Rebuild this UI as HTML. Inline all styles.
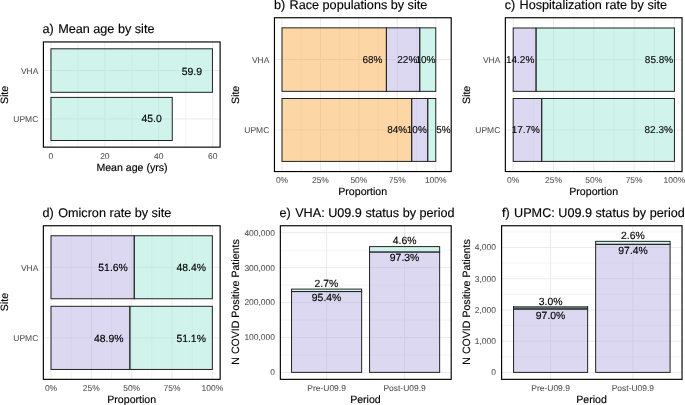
<!DOCTYPE html>
<html><head><meta charset="utf-8"><style>
html,body{margin:0;padding:0;background:#fff;width:685px;height:405px;overflow:hidden}
svg{display:block;position:absolute;left:0;top:0}
text{font-family:"Liberation Sans",sans-serif;text-rendering:geometricPrecision}
#txt{filter:grayscale(1)}
</style></head><body>
<svg width="685" height="405" viewBox="0 0 685 405">
<rect x="0" y="0" width="685" height="405" fill="#fff"/>
<line x1="77.91" y1="41.95" x2="77.91" y2="147.15" stroke="#EBEBEB" stroke-width="0.55"/>
<line x1="131.82" y1="41.95" x2="131.82" y2="147.15" stroke="#EBEBEB" stroke-width="0.55"/>
<line x1="185.74" y1="41.95" x2="185.74" y2="147.15" stroke="#EBEBEB" stroke-width="0.55"/>
<line x1="50.95" y1="41.95" x2="50.95" y2="147.15" stroke="#EBEBEB" stroke-width="1.0"/>
<line x1="104.87" y1="41.95" x2="104.87" y2="147.15" stroke="#EBEBEB" stroke-width="1.0"/>
<line x1="158.78" y1="41.95" x2="158.78" y2="147.15" stroke="#EBEBEB" stroke-width="1.0"/>
<line x1="212.70" y1="41.95" x2="212.70" y2="147.15" stroke="#EBEBEB" stroke-width="1.0"/>
<line x1="43.40" y1="70.55" x2="220.10" y2="70.55" stroke="#EBEBEB" stroke-width="1.0"/>
<line x1="43.40" y1="118.95" x2="220.10" y2="118.95" stroke="#EBEBEB" stroke-width="1.0"/>
<rect x="50.95" y="48.80" width="161.48" height="43.50" fill="#97E4D3" fill-opacity="0.45" stroke="#222222" stroke-width="1.0"/>
<rect x="50.95" y="97.40" width="121.31" height="43.10" fill="#97E4D3" fill-opacity="0.45" stroke="#222222" stroke-width="1.0"/>
<rect x="43.40" y="41.95" width="176.70" height="105.20" fill="none" stroke="#000000" stroke-width="1.15"/>
<line x1="301.22" y1="17.75" x2="301.22" y2="171.55" stroke="#EBEBEB" stroke-width="0.55"/>
<line x1="339.66" y1="17.75" x2="339.66" y2="171.55" stroke="#EBEBEB" stroke-width="0.55"/>
<line x1="378.09" y1="17.75" x2="378.09" y2="171.55" stroke="#EBEBEB" stroke-width="0.55"/>
<line x1="416.53" y1="17.75" x2="416.53" y2="171.55" stroke="#EBEBEB" stroke-width="0.55"/>
<line x1="282.00" y1="17.75" x2="282.00" y2="171.55" stroke="#EBEBEB" stroke-width="1.0"/>
<line x1="320.44" y1="17.75" x2="320.44" y2="171.55" stroke="#EBEBEB" stroke-width="1.0"/>
<line x1="358.88" y1="17.75" x2="358.88" y2="171.55" stroke="#EBEBEB" stroke-width="1.0"/>
<line x1="397.31" y1="17.75" x2="397.31" y2="171.55" stroke="#EBEBEB" stroke-width="1.0"/>
<line x1="435.75" y1="17.75" x2="435.75" y2="171.55" stroke="#EBEBEB" stroke-width="1.0"/>
<line x1="274.45" y1="59.60" x2="451.20" y2="59.60" stroke="#EBEBEB" stroke-width="1.0"/>
<line x1="274.45" y1="129.95" x2="451.20" y2="129.95" stroke="#EBEBEB" stroke-width="1.0"/>
<rect x="282.00" y="27.85" width="104.40" height="63.50" fill="#FBA439" fill-opacity="0.45" stroke="#222222" stroke-width="1.0"/>
<rect x="386.40" y="27.85" width="33.36" height="63.50" fill="#B1A8E0" fill-opacity="0.45" stroke="#222222" stroke-width="1.0"/>
<rect x="419.76" y="27.85" width="15.99" height="63.50" fill="#97E4D3" fill-opacity="0.45" stroke="#222222" stroke-width="1.0"/>
<rect x="282.00" y="98.50" width="129.69" height="62.90" fill="#FBA439" fill-opacity="0.45" stroke="#222222" stroke-width="1.0"/>
<rect x="411.69" y="98.50" width="16.07" height="62.90" fill="#B1A8E0" fill-opacity="0.45" stroke="#222222" stroke-width="1.0"/>
<rect x="427.75" y="98.50" width="8.00" height="62.90" fill="#97E4D3" fill-opacity="0.45" stroke="#222222" stroke-width="1.0"/>
<rect x="274.45" y="17.75" width="176.75" height="153.80" fill="none" stroke="#000000" stroke-width="1.15"/>
<line x1="533.36" y1="17.75" x2="533.36" y2="171.55" stroke="#EBEBEB" stroke-width="0.55"/>
<line x1="573.67" y1="17.75" x2="573.67" y2="171.55" stroke="#EBEBEB" stroke-width="0.55"/>
<line x1="613.98" y1="17.75" x2="613.98" y2="171.55" stroke="#EBEBEB" stroke-width="0.55"/>
<line x1="654.29" y1="17.75" x2="654.29" y2="171.55" stroke="#EBEBEB" stroke-width="0.55"/>
<line x1="513.20" y1="17.75" x2="513.20" y2="171.55" stroke="#EBEBEB" stroke-width="1.0"/>
<line x1="553.51" y1="17.75" x2="553.51" y2="171.55" stroke="#EBEBEB" stroke-width="1.0"/>
<line x1="593.83" y1="17.75" x2="593.83" y2="171.55" stroke="#EBEBEB" stroke-width="1.0"/>
<line x1="634.14" y1="17.75" x2="634.14" y2="171.55" stroke="#EBEBEB" stroke-width="1.0"/>
<line x1="674.45" y1="17.75" x2="674.45" y2="171.55" stroke="#EBEBEB" stroke-width="1.0"/>
<line x1="505.35" y1="59.67" x2="682.05" y2="59.67" stroke="#EBEBEB" stroke-width="1.0"/>
<line x1="505.35" y1="129.95" x2="682.05" y2="129.95" stroke="#EBEBEB" stroke-width="1.0"/>
<rect x="513.20" y="28.00" width="22.90" height="63.35" fill="#B1A8E0" fill-opacity="0.45" stroke="#222222" stroke-width="1.0"/>
<rect x="536.10" y="28.00" width="138.35" height="63.35" fill="#97E4D3" fill-opacity="0.45" stroke="#222222" stroke-width="1.0"/>
<rect x="513.20" y="98.50" width="28.54" height="62.90" fill="#B1A8E0" fill-opacity="0.45" stroke="#222222" stroke-width="1.0"/>
<rect x="541.74" y="98.50" width="132.71" height="62.90" fill="#97E4D3" fill-opacity="0.45" stroke="#222222" stroke-width="1.0"/>
<rect x="505.35" y="17.75" width="176.70" height="153.80" fill="none" stroke="#000000" stroke-width="1.15"/>
<line x1="71.17" y1="225.75" x2="71.17" y2="379.35" stroke="#EBEBEB" stroke-width="0.55"/>
<line x1="111.51" y1="225.75" x2="111.51" y2="379.35" stroke="#EBEBEB" stroke-width="0.55"/>
<line x1="151.84" y1="225.75" x2="151.84" y2="379.35" stroke="#EBEBEB" stroke-width="0.55"/>
<line x1="192.18" y1="225.75" x2="192.18" y2="379.35" stroke="#EBEBEB" stroke-width="0.55"/>
<line x1="51.00" y1="225.75" x2="51.00" y2="379.35" stroke="#EBEBEB" stroke-width="1.0"/>
<line x1="91.34" y1="225.75" x2="91.34" y2="379.35" stroke="#EBEBEB" stroke-width="1.0"/>
<line x1="131.68" y1="225.75" x2="131.68" y2="379.35" stroke="#EBEBEB" stroke-width="1.0"/>
<line x1="172.01" y1="225.75" x2="172.01" y2="379.35" stroke="#EBEBEB" stroke-width="1.0"/>
<line x1="212.35" y1="225.75" x2="212.35" y2="379.35" stroke="#EBEBEB" stroke-width="1.0"/>
<line x1="43.35" y1="267.25" x2="220.15" y2="267.25" stroke="#EBEBEB" stroke-width="1.0"/>
<line x1="43.35" y1="337.88" x2="220.15" y2="337.88" stroke="#EBEBEB" stroke-width="1.0"/>
<rect x="51.00" y="235.75" width="83.26" height="63.00" fill="#B1A8E0" fill-opacity="0.45" stroke="#222222" stroke-width="1.0"/>
<rect x="134.26" y="235.75" width="78.09" height="63.00" fill="#97E4D3" fill-opacity="0.45" stroke="#222222" stroke-width="1.0"/>
<rect x="51.00" y="306.30" width="78.90" height="63.15" fill="#B1A8E0" fill-opacity="0.45" stroke="#222222" stroke-width="1.0"/>
<rect x="129.90" y="306.30" width="82.45" height="63.15" fill="#97E4D3" fill-opacity="0.45" stroke="#222222" stroke-width="1.0"/>
<rect x="43.35" y="225.75" width="176.80" height="153.60" fill="none" stroke="#000000" stroke-width="1.15"/>
<line x1="280.35" y1="354.92" x2="451.20" y2="354.92" stroke="#EBEBEB" stroke-width="0.55"/>
<line x1="280.35" y1="320.00" x2="451.20" y2="320.00" stroke="#EBEBEB" stroke-width="0.55"/>
<line x1="280.35" y1="285.10" x2="451.20" y2="285.10" stroke="#EBEBEB" stroke-width="0.55"/>
<line x1="280.35" y1="250.19" x2="451.20" y2="250.19" stroke="#EBEBEB" stroke-width="0.55"/>
<line x1="280.35" y1="372.37" x2="451.20" y2="372.37" stroke="#EBEBEB" stroke-width="1.0"/>
<line x1="280.35" y1="337.46" x2="451.20" y2="337.46" stroke="#EBEBEB" stroke-width="1.0"/>
<line x1="280.35" y1="302.55" x2="451.20" y2="302.55" stroke="#EBEBEB" stroke-width="1.0"/>
<line x1="280.35" y1="267.64" x2="451.20" y2="267.64" stroke="#EBEBEB" stroke-width="1.0"/>
<line x1="280.35" y1="232.73" x2="451.20" y2="232.73" stroke="#EBEBEB" stroke-width="1.0"/>
<line x1="326.60" y1="225.75" x2="326.60" y2="379.35" stroke="#EBEBEB" stroke-width="1.0"/>
<line x1="404.60" y1="225.75" x2="404.60" y2="379.35" stroke="#EBEBEB" stroke-width="1.0"/>
<rect x="291.55" y="291.55" width="70.10" height="80.82" fill="#B1A8E0" fill-opacity="0.45" stroke="#222222" stroke-width="1.0"/>
<rect x="291.55" y="289.10" width="70.10" height="2.45" fill="#97E4D3" fill-opacity="0.45" stroke="#222222" stroke-width="1.0"/>
<rect x="369.55" y="252.00" width="70.10" height="120.37" fill="#B1A8E0" fill-opacity="0.45" stroke="#222222" stroke-width="1.0"/>
<rect x="369.55" y="246.60" width="70.10" height="5.40" fill="#97E4D3" fill-opacity="0.45" stroke="#222222" stroke-width="1.0"/>
<rect x="280.35" y="225.75" width="170.85" height="153.60" fill="none" stroke="#000000" stroke-width="1.15"/>
<line x1="501.60" y1="356.78" x2="682.05" y2="356.78" stroke="#EBEBEB" stroke-width="0.55"/>
<line x1="501.60" y1="325.55" x2="682.05" y2="325.55" stroke="#EBEBEB" stroke-width="0.55"/>
<line x1="501.60" y1="294.32" x2="682.05" y2="294.32" stroke="#EBEBEB" stroke-width="0.55"/>
<line x1="501.60" y1="263.09" x2="682.05" y2="263.09" stroke="#EBEBEB" stroke-width="0.55"/>
<line x1="501.60" y1="231.86" x2="682.05" y2="231.86" stroke="#EBEBEB" stroke-width="0.55"/>
<line x1="501.60" y1="372.40" x2="682.05" y2="372.40" stroke="#EBEBEB" stroke-width="1.0"/>
<line x1="501.60" y1="341.17" x2="682.05" y2="341.17" stroke="#EBEBEB" stroke-width="1.0"/>
<line x1="501.60" y1="309.94" x2="682.05" y2="309.94" stroke="#EBEBEB" stroke-width="1.0"/>
<line x1="501.60" y1="278.71" x2="682.05" y2="278.71" stroke="#EBEBEB" stroke-width="1.0"/>
<line x1="501.60" y1="247.48" x2="682.05" y2="247.48" stroke="#EBEBEB" stroke-width="1.0"/>
<line x1="550.60" y1="225.75" x2="550.60" y2="379.35" stroke="#EBEBEB" stroke-width="1.0"/>
<line x1="632.88" y1="225.75" x2="632.88" y2="379.35" stroke="#EBEBEB" stroke-width="1.0"/>
<rect x="513.55" y="309.00" width="74.10" height="63.40" fill="#B1A8E0" fill-opacity="0.45" stroke="#222222" stroke-width="1.0"/>
<rect x="513.55" y="306.00" width="74.10" height="3.00" fill="#5E706A"/>
<line x1="513.55" y1="306.00" x2="513.55" y2="309.00" stroke="#222222" stroke-width="1.0"/>
<line x1="587.65" y1="306.00" x2="587.65" y2="309.00" stroke="#222222" stroke-width="1.0"/>
<line x1="513.55" y1="309.00" x2="587.65" y2="309.00" stroke="#222222" stroke-width="1.0"/>
<rect x="595.65" y="244.35" width="74.45" height="128.05" fill="#B1A8E0" fill-opacity="0.45" stroke="#222222" stroke-width="1.0"/>
<rect x="595.65" y="241.35" width="74.45" height="3.00" fill="#97E4D3" fill-opacity="0.45" stroke="#222222" stroke-width="1.0"/>
<rect x="501.60" y="225.75" width="180.45" height="153.60" fill="none" stroke="#000000" stroke-width="1.15"/>
</svg>
<svg id="txt" width="685" height="405" viewBox="0 0 685 405">
<text x="202.00" y="74.50" font-size="10.42" text-anchor="end" fill="#000000" stroke="#000000" stroke-width="0.15">59.9</text>
<text x="161.70" y="122.40" font-size="10.42" text-anchor="end" fill="#000000" stroke="#000000" stroke-width="0.15">45.0</text>
<text x="50.95" y="159.00" font-size="8.48" text-anchor="middle" fill="#4D4D4D" stroke="#4D4D4D" stroke-width="0.05">0</text>
<text x="104.87" y="159.00" font-size="8.48" text-anchor="middle" fill="#4D4D4D" stroke="#4D4D4D" stroke-width="0.05">20</text>
<text x="158.78" y="159.00" font-size="8.48" text-anchor="middle" fill="#4D4D4D" stroke="#4D4D4D" stroke-width="0.05">40</text>
<text x="212.70" y="159.00" font-size="8.48" text-anchor="middle" fill="#4D4D4D" stroke="#4D4D4D" stroke-width="0.05">60</text>
<text x="38.30" y="73.95" font-size="8.48" text-anchor="end" fill="#4D4D4D" stroke="#4D4D4D" stroke-width="0.05">VHA</text>
<text x="38.30" y="122.35" font-size="8.48" text-anchor="end" fill="#4D4D4D" stroke="#4D4D4D" stroke-width="0.05">UPMC</text>
<text x="132.00" y="170.60" font-size="10.6" text-anchor="middle" fill="#000000" stroke="#000000" stroke-width="0.15">Mean age (yrs)</text>
<text x="8.30" y="94.95" font-size="10.6" text-anchor="middle" fill="#000000" stroke="#000000" stroke-width="0.15" transform="rotate(-90 8.30 94.95)">Site</text>
<text x="42.60" y="33.40" font-size="12.65" text-anchor="start" fill="#000000" stroke="#000000" stroke-width="0.15">a)<tspan dx="0.8"> Mean age by site</tspan></text>
<text transform="translate(382.50 63.40) scale(1.0 1)" font-size="10.0" text-anchor="end" fill="#000000" stroke="#000000" stroke-width="0.1">68%</text>
<text transform="translate(417.30 63.40) scale(1.0 1)" font-size="10.0" text-anchor="end" fill="#000000" stroke="#000000" stroke-width="0.1">22%</text>
<text transform="translate(435.50 63.40) scale(1.0 1)" font-size="10.0" text-anchor="end" fill="#000000" stroke="#000000" stroke-width="0.1">10%</text>
<text transform="translate(407.20 133.35) scale(1.0 1)" font-size="10.0" text-anchor="end" fill="#000000" stroke="#000000" stroke-width="0.1">84%</text>
<text transform="translate(426.80 133.35) scale(1.0 1)" font-size="10.0" text-anchor="end" fill="#000000" stroke="#000000" stroke-width="0.1">10%</text>
<text transform="translate(450.70 133.35) scale(1.0 1)" font-size="10.0" text-anchor="end" fill="#000000" stroke="#000000" stroke-width="0.1">5%</text>
<text x="282.00" y="183.00" font-size="8.48" text-anchor="middle" fill="#4D4D4D" stroke="#4D4D4D" stroke-width="0.05">0%</text>
<text x="320.44" y="183.00" font-size="8.48" text-anchor="middle" fill="#4D4D4D" stroke="#4D4D4D" stroke-width="0.05">25%</text>
<text x="358.88" y="183.00" font-size="8.48" text-anchor="middle" fill="#4D4D4D" stroke="#4D4D4D" stroke-width="0.05">50%</text>
<text x="397.31" y="183.00" font-size="8.48" text-anchor="middle" fill="#4D4D4D" stroke="#4D4D4D" stroke-width="0.05">75%</text>
<text x="435.75" y="183.00" font-size="8.48" text-anchor="middle" fill="#4D4D4D" stroke="#4D4D4D" stroke-width="0.05">100%</text>
<text x="269.30" y="63.00" font-size="8.48" text-anchor="end" fill="#4D4D4D" stroke="#4D4D4D" stroke-width="0.05">VHA</text>
<text x="269.30" y="133.35" font-size="8.48" text-anchor="end" fill="#4D4D4D" stroke="#4D4D4D" stroke-width="0.05">UPMC</text>
<text x="362.70" y="194.60" font-size="10.6" text-anchor="middle" fill="#000000" stroke="#000000" stroke-width="0.15">Proportion</text>
<text x="239.30" y="94.85" font-size="10.6" text-anchor="middle" fill="#000000" stroke="#000000" stroke-width="0.15" transform="rotate(-90 239.30 94.85)">Site</text>
<text x="274.00" y="9.15" font-size="12.65" text-anchor="start" fill="#000000" stroke="#000000" stroke-width="0.15">b)<tspan dx="0.8"> Race populations by site</tspan></text>
<text transform="translate(534.30 63.05) scale(1.0 1)" font-size="10.0" text-anchor="end" fill="#000000" stroke="#000000" stroke-width="0.1">14.2%</text>
<text transform="translate(673.20 63.05) scale(1.0 1)" font-size="10.0" text-anchor="end" fill="#000000" stroke="#000000" stroke-width="0.1">85.8%</text>
<text transform="translate(540.00 133.35) scale(1.0 1)" font-size="10.0" text-anchor="end" fill="#000000" stroke="#000000" stroke-width="0.1">17.7%</text>
<text transform="translate(672.90 133.35) scale(1.0 1)" font-size="10.0" text-anchor="end" fill="#000000" stroke="#000000" stroke-width="0.1">82.3%</text>
<text x="513.20" y="183.00" font-size="8.48" text-anchor="middle" fill="#4D4D4D" stroke="#4D4D4D" stroke-width="0.05">0%</text>
<text x="553.51" y="183.00" font-size="8.48" text-anchor="middle" fill="#4D4D4D" stroke="#4D4D4D" stroke-width="0.05">25%</text>
<text x="593.83" y="183.00" font-size="8.48" text-anchor="middle" fill="#4D4D4D" stroke="#4D4D4D" stroke-width="0.05">50%</text>
<text x="634.14" y="183.00" font-size="8.48" text-anchor="middle" fill="#4D4D4D" stroke="#4D4D4D" stroke-width="0.05">75%</text>
<text x="674.45" y="183.00" font-size="8.48" text-anchor="middle" fill="#4D4D4D" stroke="#4D4D4D" stroke-width="0.05">100%</text>
<text x="500.30" y="63.07" font-size="8.48" text-anchor="end" fill="#4D4D4D" stroke="#4D4D4D" stroke-width="0.05">VHA</text>
<text x="500.30" y="133.35" font-size="8.48" text-anchor="end" fill="#4D4D4D" stroke="#4D4D4D" stroke-width="0.05">UPMC</text>
<text x="593.70" y="194.60" font-size="10.6" text-anchor="middle" fill="#000000" stroke="#000000" stroke-width="0.15">Proportion</text>
<text x="470.30" y="94.85" font-size="10.6" text-anchor="middle" fill="#000000" stroke="#000000" stroke-width="0.15" transform="rotate(-90 470.30 94.85)">Site</text>
<text x="504.70" y="9.15" font-size="12.65" text-anchor="start" fill="#000000" stroke="#000000" stroke-width="0.15">c)<tspan dx="0.8"> Hospitalization rate by site</tspan></text>
<text x="127.85" y="271.10" font-size="10.42" text-anchor="end" fill="#000000" stroke="#000000" stroke-width="0.15">51.6%</text>
<text x="206.00" y="271.10" font-size="10.42" text-anchor="end" fill="#000000" stroke="#000000" stroke-width="0.15">48.4%</text>
<text x="123.50" y="341.70" font-size="10.42" text-anchor="end" fill="#000000" stroke="#000000" stroke-width="0.15">48.9%</text>
<text x="205.90" y="341.70" font-size="10.42" text-anchor="end" fill="#000000" stroke="#000000" stroke-width="0.15">51.1%</text>
<text x="51.00" y="390.80" font-size="8.48" text-anchor="middle" fill="#4D4D4D" stroke="#4D4D4D" stroke-width="0.05">0%</text>
<text x="91.34" y="390.80" font-size="8.48" text-anchor="middle" fill="#4D4D4D" stroke="#4D4D4D" stroke-width="0.05">25%</text>
<text x="131.68" y="390.80" font-size="8.48" text-anchor="middle" fill="#4D4D4D" stroke="#4D4D4D" stroke-width="0.05">50%</text>
<text x="172.01" y="390.80" font-size="8.48" text-anchor="middle" fill="#4D4D4D" stroke="#4D4D4D" stroke-width="0.05">75%</text>
<text x="212.35" y="390.80" font-size="8.48" text-anchor="middle" fill="#4D4D4D" stroke="#4D4D4D" stroke-width="0.05">100%</text>
<text x="38.30" y="270.65" font-size="8.48" text-anchor="end" fill="#4D4D4D" stroke="#4D4D4D" stroke-width="0.05">VHA</text>
<text x="38.30" y="341.27" font-size="8.48" text-anchor="end" fill="#4D4D4D" stroke="#4D4D4D" stroke-width="0.05">UPMC</text>
<text x="131.70" y="403.00" font-size="10.6" text-anchor="middle" fill="#000000" stroke="#000000" stroke-width="0.15">Proportion</text>
<text x="8.30" y="302.10" font-size="10.6" text-anchor="middle" fill="#000000" stroke="#000000" stroke-width="0.15" transform="rotate(-90 8.30 302.10)">Site</text>
<text x="42.60" y="216.80" font-size="12.65" text-anchor="start" fill="#000000" stroke="#000000" stroke-width="0.15">d)<tspan dx="0.8"> Omicron rate by site</tspan></text>
<text x="326.40" y="287.20" font-size="10.42" text-anchor="middle" fill="#000000" stroke="#000000" stroke-width="0.15">2.7%</text>
<text x="326.60" y="300.50" font-size="10.42" text-anchor="middle" fill="#000000" stroke="#000000" stroke-width="0.15">95.4%</text>
<text x="404.60" y="244.30" font-size="10.42" text-anchor="middle" fill="#000000" stroke="#000000" stroke-width="0.15">4.6%</text>
<text x="404.60" y="261.45" font-size="10.42" text-anchor="middle" fill="#000000" stroke="#000000" stroke-width="0.15">97.3%</text>
<text x="275.00" y="375.27" font-size="8.48" text-anchor="end" fill="#4D4D4D" stroke="#4D4D4D" stroke-width="0.05">0</text>
<text x="275.00" y="340.36" font-size="8.48" text-anchor="end" fill="#4D4D4D" stroke="#4D4D4D" stroke-width="0.05">100,000</text>
<text x="275.00" y="305.45" font-size="8.48" text-anchor="end" fill="#4D4D4D" stroke="#4D4D4D" stroke-width="0.05">200,000</text>
<text x="275.00" y="270.54" font-size="8.48" text-anchor="end" fill="#4D4D4D" stroke="#4D4D4D" stroke-width="0.05">300,000</text>
<text x="275.00" y="235.63" font-size="8.48" text-anchor="end" fill="#4D4D4D" stroke="#4D4D4D" stroke-width="0.05">400,000</text>
<text x="326.60" y="390.80" font-size="8.48" text-anchor="middle" fill="#4D4D4D" stroke="#4D4D4D" stroke-width="0.05">Pre-U09.9</text>
<text x="404.60" y="390.80" font-size="8.48" text-anchor="middle" fill="#4D4D4D" stroke="#4D4D4D" stroke-width="0.05">Post-U09.9</text>
<text x="365.45" y="402.70" font-size="10.6" text-anchor="middle" fill="#000000" stroke="#000000" stroke-width="0.15">Period</text>
<text x="238.90" y="302.00" font-size="10.6" text-anchor="middle" fill="#000000" stroke="#000000" stroke-width="0.15" transform="rotate(-90 238.90 302.00)">N COVID Positive Patients</text>
<text x="279.60" y="216.80" font-size="12.65" text-anchor="start" fill="#000000" stroke="#000000" stroke-width="0.15">e)<tspan dx="0.8"> VHA: U09.9 status by period</tspan></text>
<text x="550.60" y="304.50" font-size="10.42" text-anchor="middle" fill="#000000" stroke="#000000" stroke-width="0.15">3.0%</text>
<text x="550.60" y="318.60" font-size="10.42" text-anchor="middle" fill="#000000" stroke="#000000" stroke-width="0.15">97.0%</text>
<text x="632.88" y="239.20" font-size="10.42" text-anchor="middle" fill="#000000" stroke="#000000" stroke-width="0.15">2.6%</text>
<text x="633.08" y="253.80" font-size="10.42" text-anchor="middle" fill="#000000" stroke="#000000" stroke-width="0.15">97.4%</text>
<text x="496.00" y="375.40" font-size="8.48" text-anchor="end" fill="#4D4D4D" stroke="#4D4D4D" stroke-width="0.05">0</text>
<text x="496.00" y="344.17" font-size="8.48" text-anchor="end" fill="#4D4D4D" stroke="#4D4D4D" stroke-width="0.05">1,000</text>
<text x="496.00" y="312.94" font-size="8.48" text-anchor="end" fill="#4D4D4D" stroke="#4D4D4D" stroke-width="0.05">2,000</text>
<text x="496.00" y="281.71" font-size="8.48" text-anchor="end" fill="#4D4D4D" stroke="#4D4D4D" stroke-width="0.05">3,000</text>
<text x="496.00" y="250.48" font-size="8.48" text-anchor="end" fill="#4D4D4D" stroke="#4D4D4D" stroke-width="0.05">4,000</text>
<text x="550.60" y="390.80" font-size="8.48" text-anchor="middle" fill="#4D4D4D" stroke="#4D4D4D" stroke-width="0.05">Pre-U09.9</text>
<text x="632.88" y="390.80" font-size="8.48" text-anchor="middle" fill="#4D4D4D" stroke="#4D4D4D" stroke-width="0.05">Post-U09.9</text>
<text x="591.60" y="402.70" font-size="10.6" text-anchor="middle" fill="#000000" stroke="#000000" stroke-width="0.15">Period</text>
<text x="469.80" y="302.00" font-size="10.6" text-anchor="middle" fill="#000000" stroke="#000000" stroke-width="0.15" transform="rotate(-90 469.80 302.00)">N COVID Positive Patients</text>
<text x="502.00" y="216.80" font-size="12.65" text-anchor="start" fill="#000000" stroke="#000000" stroke-width="0.15">f)<tspan dx="0.8"> UPMC: U09.9 status by period</tspan></text>
</svg>
</body></html>
